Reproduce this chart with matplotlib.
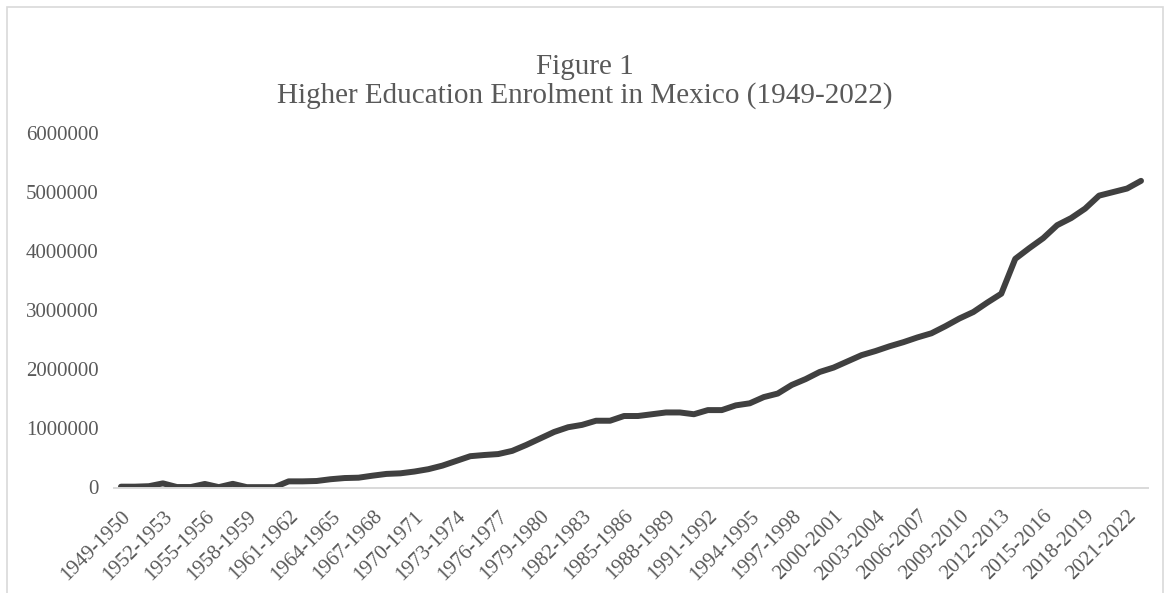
import matplotlib
matplotlib.use("Agg")
import matplotlib.pyplot as plt
from matplotlib.patches import Rectangle

# School years (categories) and enrolment counts
school_years = [f"{y}-{y + 1}" for y in range(1949, 2023)]
enrolment = [
    14000, 14000, 22000, 70000, 8000, 8000, 60000, 6000, 62000, 6000,
    6000, 6000, 104000, 104000, 110000, 140000, 160000, 166000, 200000, 230000,
    240000, 270000, 310000, 370000, 450000, 530000, 550000, 566000, 620000, 720000,
    830000, 940000, 1020000, 1060000, 1130000, 1130000, 1210000, 1210000, 1240000, 1270000,
    1270000, 1240000, 1310000, 1310000, 1390000, 1425000, 1530000, 1590000, 1735000, 1835000,
    1955000, 2030000, 2135000, 2240000, 2310000, 2390000, 2460000, 2540000, 2610000, 2730000,
    2860000, 2970000, 3130000, 3280000, 3870000, 4050000, 4220000, 4440000, 4560000, 4720000,
    4940000, 5000000, 5060000, 5190000,
]
y_ticks = [0, 1000000, 2000000, 3000000, 4000000, 5000000, 6000000]
title_line1 = "Figure 1"
title_line2 = "Higher Education Enrolment in Mexico (1949-2022)"

W, H, DPI = 1170, 593, 100
plt.rcParams["font.family"] = ["Liberation Serif", "DejaVu Serif"]

fig = plt.figure(figsize=(W / DPI, H / DPI), dpi=DPI)
fig.patch.set_facecolor("white")

# light chart-area border
fig.add_artist(Rectangle((7 / W, -0.05), (1163 - 7) / W, 1.05 - 7 / H,
                         transform=fig.transFigure, fill=False,
                         edgecolor="#d9d9d9", linewidth=1.2))

left, right = 114, 1148
top, bottom = 133, 487.5
ax = fig.add_axes([left / W, (H - bottom) / H, (right - left) / W, (bottom - top) / H])

x = list(range(len(school_years)))
ax.plot(x, enrolment, color="#404040", linewidth=4.3,
        solid_capstyle="round", solid_joinstyle="round")

ax.set_xlim(-0.5, len(school_years) - 0.5)
ax.set_ylim(0, 6000000)
ax.set_yticks(y_ticks)
ax.set_yticklabels([str(v) for v in y_ticks])

tick_idx = list(range(0, len(school_years), 3))
ax.set_xticks(tick_idx)
ax.set_xticklabels([school_years[i] for i in tick_idx], rotation=45,
                   ha="right", va="top", rotation_mode="anchor")

for s in ["top", "right", "left"]:
    ax.spines[s].set_visible(False)
ax.spines["bottom"].set_color("#d9d9d9")
ax.spines["bottom"].set_linewidth(1.4)

ax.tick_params(axis="both", length=0, labelsize=15, labelcolor="#595959")
ax.tick_params(axis="y", pad=11)
ax.tick_params(axis="x", pad=14)

fig.text(0.5, 1 - 74 / H, title_line1, ha="center", va="baseline",
         fontsize=21, color="#595959")
fig.text(0.5, 1 - 103 / H, title_line2, ha="center", va="baseline",
         fontsize=21, color="#595959")

fig.savefig("out.png", dpi=DPI)
